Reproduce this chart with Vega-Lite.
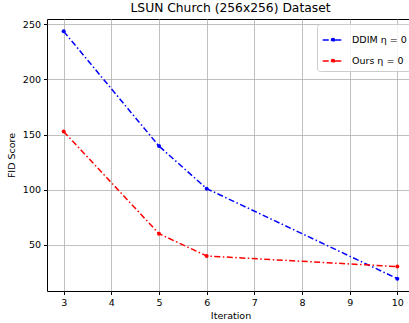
{
  "$schema": "https://vega.github.io/schema/vega-lite/v6.json",
  "width": 367,
  "height": 272,
  "autosize": {"type": "none"},
  "padding": {"left": 47, "top": 19, "right": 0, "bottom": 32},
  "background": "white",
  "title": {"text": "LSUN Church (256x256) Dataset", "font": "DejaVu Sans", "fontSize": 12.3, "fontWeight": "normal", "color": "black", "offset": 5},
  "config": {
    "font": "DejaVu Sans",
    "view": {"stroke": "black", "strokeWidth": 1}
  },
  "data": {
    "values": [
      {"series": "DDIM η = 0", "iteration": 3, "fid": 243.4},
      {"series": "DDIM η = 0", "iteration": 5, "fid": 139.5},
      {"series": "DDIM η = 0", "iteration": 6, "fid": 101},
      {"series": "DDIM η = 0", "iteration": 10, "fid": 19.5},
      {"series": "Ours η = 0", "iteration": 3, "fid": 152.7},
      {"series": "Ours η = 0", "iteration": 5, "fid": 60.2},
      {"series": "Ours η = 0", "iteration": 6, "fid": 40},
      {"series": "Ours η = 0", "iteration": 10, "fid": 30.4}
    ]
  },
  "mark": {"type": "line", "strokeDash": [6, 2.5, 1.5, 2.5], "strokeWidth": 1.5, "point": {"filled": true, "size": 16, "opacity": 1}},
  "encoding": {
    "x": {
      "field": "iteration", "type": "quantitative",
      "scale": {"domain": [2.65, 10.35], "nice": false, "zero": false},
      "axis": {"values": [3, 4, 5, 6, 7, 8, 9, 10], "title": "Iteration", "grid": true, "gridColor": "#b0b0b0", "gridWidth": 0.8, "gridOpacity": 1,
        "domain": false, "tickColor": "black", "tickSize": 3.5, "labelFontSize": 9.5, "labelColor": "black", "labelPadding": 3,
        "titleFontSize": 9.5, "titleFontWeight": "normal", "titleColor": "black", "titlePadding": 3}
    },
    "y": {
      "field": "fid", "type": "quantitative",
      "scale": {"domain": [8.3, 254.6], "nice": false, "zero": false},
      "axis": {"values": [50, 100, 150, 200, 250], "title": "FID Score", "grid": true, "gridColor": "#b0b0b0", "gridWidth": 0.8, "gridOpacity": 1,
        "domain": false, "tickColor": "black", "tickSize": 3.5, "labelFontSize": 9.5, "labelColor": "black", "labelPadding": 3,
        "titleFontSize": 9.5, "titleFontWeight": "normal", "titleColor": "black", "titlePadding": 6}
    },
    "color": {
      "field": "series", "type": "nominal",
      "scale": {"domain": ["DDIM η = 0", "Ours η = 0"], "range": ["#0000ff", "#ff0000"]},
      "legend": {"title": null, "orient": "none", "legendX": 270, "legendY": 5,
        "symbolType": "M-1,0H1M-0.15,0A0.15,0.15,0,1,1,0.15,0A0.15,0.15,0,1,1,-0.15,0Z", "symbolSize": 420, "symbolStrokeWidth": 1.5, "symbolDash": [6, 2.5, 1.5, 2.5],
        "labelFontSize": 9.5, "labelColor": "black", "labelOffset": 8, "rowPadding": 5,
        "padding": 5, "strokeColor": "#cccccc", "fillColor": "rgba(255,255,255,0.8)", "cornerRadius": 3}
    }
  }
}
